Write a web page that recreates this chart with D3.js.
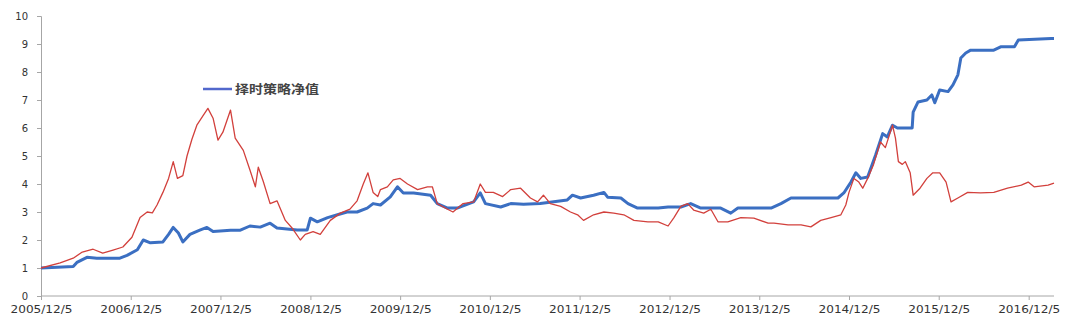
<!DOCTYPE html>
<html lang="zh">
<head>
<meta charset="UTF-8">
<title>择时策略净值</title>
<script src="https://d3js.org/d3.v7.min.js"></script>
<style>
  body { margin: 0; background: #fff; }
  svg text { font-family: "DejaVu Sans", sans-serif; }
</style>
</head>
<body>
<div id="chart"></div>
<script>
// strategy net value (blue)
var strategyDates = ['2005-12-05','2006-04-15','2006-04-30','2006-06-10','2006-07-20','2006-08-31','2006-10-22','2006-11-20',
  '2007-01-01','2007-01-25','2007-02-23','2007-04-15','2007-05-08','2007-05-27','2007-06-17','2007-07-05','2007-08-03',
  '2007-09-12','2007-10-11','2007-11-05','2008-01-15','2008-02-24','2008-04-03','2008-05-15','2008-06-24','2008-07-22',
  '2008-10-12','2008-11-22','2008-12-05','2009-01-02','2009-02-13','2009-03-25','2009-05-03','2009-06-13','2009-07-24',
  '2009-08-17','2009-09-16','2009-10-26','2009-11-24','2009-12-18','2010-01-29','2010-04-08','2010-05-05','2010-06-16',
  '2010-07-25','2010-09-30','2010-10-27','2010-11-17','2011-01-18','2011-02-28','2011-04-21','2011-06-28','2011-10-16',
  '2011-11-06','2011-12-09','2012-01-31','2012-03-13','2012-03-28','2012-05-21','2012-06-19','2012-07-28','2012-10-20',
  '2012-11-29','2013-01-20','2013-03-01','2013-04-11','2013-07-01','2013-08-11','2013-09-09','2014-01-22','2014-03-03',
  '2014-04-13','2014-05-24','2014-10-21','2014-11-14','2014-12-13','2015-01-02','2015-01-22','2015-02-19','2015-03-23',
  '2015-04-21','2015-05-10','2015-05-31','2015-06-20','2015-08-19','2015-08-23','2015-09-12','2015-10-18','2015-11-07',
  '2015-11-19','2015-12-09','2016-01-12','2016-02-01','2016-02-21','2016-03-04','2016-03-24','2016-04-13','2016-07-16',
  '2016-08-13','2016-10-08','2016-10-24','2017-03-06','2017-03-18'];
var strategyValues = [1.0,1.05,1.2,1.38,1.35,1.35,1.35,1.45,
  1.65,2.0,1.9,1.93,2.2,2.45,2.25,1.93,2.2,
  2.35,2.45,2.3,2.35,2.35,2.5,2.46,2.6,2.43,
  2.36,2.36,2.78,2.65,2.8,2.9,3.0,3.0,3.14,
  3.3,3.25,3.54,3.9,3.68,3.68,3.6,3.3,3.14,
  3.14,3.36,3.68,3.3,3.18,3.3,3.28,3.3,3.43,
  3.6,3.5,3.6,3.7,3.53,3.5,3.3,3.14,3.14,
  3.18,3.18,3.3,3.14,3.14,2.96,3.14,3.14,3.3,
  3.5,3.5,3.5,3.68,4.07,4.4,4.2,4.25,5.03,
  5.8,5.68,6.1,6.0,6.0,6.57,6.93,7.0,7.18,
  6.9,7.36,7.3,7.54,7.9,8.5,8.68,8.78,8.78,
  8.9,8.9,9.14,9.2,9.2];

// benchmark index (red)
var indexDates = ['2005-12-05','2006-02-21','2006-04-15','2006-05-22','2006-07-05','2006-08-13','2006-09-24','2006-11-03',
  '2006-12-10','2007-01-12','2007-02-10','2007-03-03','2007-03-22','2007-04-15','2007-05-08','2007-05-27','2007-06-13',
  '2007-07-05','2007-07-22','2007-08-11','2007-08-31','2007-09-26','2007-10-15','2007-11-05','2007-11-25','2007-12-15',
  '2008-01-15','2008-02-03','2008-03-07','2008-04-03','2008-04-25','2008-05-07','2008-05-27','2008-06-24','2008-07-22',
  '2008-08-25','2008-09-24','2008-10-25','2008-11-14','2008-12-16','2009-01-14','2009-02-24','2009-04-06','2009-05-15',
  '2009-06-13','2009-07-08','2009-07-27','2009-08-17','2009-09-05','2009-09-16','2009-10-14','2009-11-07','2009-12-05',
  '2010-01-04','2010-02-14','2010-03-26','2010-04-15','2010-05-05','2010-06-16','2010-07-08','2010-08-18','2010-09-30',
  '2010-10-27','2010-11-17','2010-12-19','2011-01-26','2011-02-28','2011-04-09','2011-05-19','2011-06-17','2011-07-11',
  '2011-08-08','2011-09-19','2011-10-29','2011-11-27','2011-12-21','2012-01-31','2012-03-13','2012-04-22','2012-06-02',
  '2012-07-13','2012-09-08','2012-10-20','2012-11-29','2012-12-23','2013-01-20','2013-02-17','2013-03-13','2013-04-23',
  '2013-05-22','2013-06-20','2013-07-30','2013-09-21','2013-11-13','2014-01-10','2014-02-03','2014-04-01','2014-05-24',
  '2014-07-03','2014-08-12','2014-09-23','2014-11-02','2014-11-22','2014-12-05','2014-12-25','2015-01-14','2015-01-30',
  '2015-02-19','2015-03-15','2015-04-12','2015-05-02','2015-05-31','2015-06-12','2015-06-24','2015-07-10','2015-07-22',
  '2015-08-11','2015-08-23','2015-09-20','2015-10-18','2015-11-11','2015-12-09','2016-01-04','2016-01-24','2016-02-21',
  '2016-04-01','2016-05-23','2016-07-16','2016-09-10','2016-11-05','2016-12-03','2016-12-27','2017-02-22','2017-03-18'];
var indexValues = [1.0,1.18,1.35,1.57,1.67,1.53,1.64,1.75,
  2.1,2.8,3.0,2.97,3.25,3.7,4.2,4.8,4.2,
  4.3,5.0,5.6,6.1,6.45,6.7,6.35,5.57,5.85,
  6.64,5.64,5.2,4.5,3.9,4.6,4.1,3.3,3.4,
  2.7,2.4,2.0,2.2,2.3,2.2,2.7,2.96,3.1,
  3.4,4.0,4.4,3.7,3.55,3.8,3.9,4.15,4.2,
  4.0,3.8,3.9,3.9,3.3,3.1,3.0,3.3,3.36,
  4.0,3.7,3.7,3.55,3.8,3.85,3.5,3.36,3.6,
  3.3,3.2,3.0,2.9,2.7,2.9,3.0,2.96,2.9,
  2.7,2.65,2.65,2.5,2.8,3.2,3.3,3.07,2.96,
  3.1,2.65,2.65,2.8,2.78,2.6,2.6,2.54,2.54,
  2.47,2.7,2.8,2.9,3.25,3.7,4.2,4.07,3.85,
  4.2,4.7,5.5,5.3,6.1,5.64,4.8,4.7,4.8,
  4.4,3.6,3.85,4.2,4.4,4.4,4.07,3.36,3.5,
  3.7,3.68,3.7,3.85,3.96,4.07,3.9,3.96,4.03];

var yTicks = [0, 1, 2, 3, 4, 5, 6, 7, 8, 9, 10];
var xTickLabels = ['2005/12/5','2006/12/5','2007/12/5','2008/12/5','2009/12/5','2010/12/5',
  '2011/12/5','2012/12/5','2013/12/5','2014/12/5','2015/12/5','2016/12/5'];
var legendLabel = '择时策略净值';

var width = 1077, height = 330;
var margin = { top: 16, right: 23, bottom: 34, left: 41 };

var parse = d3.timeParse('%Y-%m-%d');
var parseTick = d3.timeParse('%Y/%m/%d');
var fmtTick = d3.timeFormat('%Y/%m/%-d');

var strategy = strategyDates.map(function(d, i) { return { date: parse(d), value: strategyValues[i] }; });
var index = indexDates.map(function(d, i) { return { date: parse(d), value: indexValues[i] }; });

var svg = d3.select('#chart').append('svg')
  .attr('width', width).attr('height', height);

var x = d3.scaleTime()
  .domain([parse(indexDates[0]), parse(indexDates[indexDates.length - 1])])
  .range([margin.left, width - margin.right]);
var y = d3.scaleLinear()
  .domain([0, 10])
  .range([height - margin.bottom, margin.top]);

// y axis
var yAxis = svg.append('g')
  .attr('transform', 'translate(' + margin.left + ',0)')
  .call(d3.axisLeft(y).tickValues(yTicks).tickSize(4).tickPadding(9).tickFormat(d3.format('d')));
yAxis.select('.domain').attr('stroke', '#a6a6a6');
yAxis.selectAll('.tick line').attr('stroke', '#a6a6a6');
yAxis.selectAll('text').attr('fill', '#333').style('font-size', '10px');

// x axis
var xAxis = svg.append('g')
  .attr('transform', 'translate(0,' + (height - margin.bottom) + ')')
  .call(d3.axisBottom(x)
    .tickValues(xTickLabels.map(function(t) { return parseTick(t); }))
    .tickSize(4).tickPadding(6).tickFormat(fmtTick));
xAxis.select('.domain').attr('stroke', '#a6a6a6').attr('d', 'M' + margin.left + ',0H' + (width - margin.right));
xAxis.selectAll('.tick line').attr('stroke', '#a6a6a6');
xAxis.selectAll('text').attr('fill', '#333').style('font-size', '10px')
  .attr('textLength', 62).attr('lengthAdjust', 'spacingAndGlyphs');

var line = d3.line()
  .x(function(d) { return x(d.date); })
  .y(function(d) { return y(d.value); });

svg.append('path')
  .datum(strategy)
  .attr('fill', 'none')
  .attr('stroke', '#3b6fc2')
  .attr('stroke-width', 3)
  .attr('stroke-linejoin', 'round')
  .attr('d', line);

svg.append('path')
  .datum(index)
  .attr('fill', 'none')
  .attr('stroke', '#d2403c')
  .attr('stroke-width', 1.3)
  .attr('stroke-linejoin', 'round')
  .attr('d', line);

// legend
var legend = svg.append('g').attr('transform', 'translate(203,89)');
legend.append('line')
  .attr('x1', 0).attr('x2', 29).attr('y1', 0).attr('y2', 0)
  .attr('stroke', '#5268cc').attr('stroke-width', 2.5);
legend.append('text')
  .attr('x', 32).attr('y', 5)
  .attr('fill', '#444')
  .style('font-family', '"Noto Sans CJK SC", sans-serif')
  .style('font-size', '12px')
  .style('font-weight', 'bold')
  .attr('textLength', 84).attr('lengthAdjust', 'spacingAndGlyphs')
  .text(legendLabel);
</script>
</body>
</html>
